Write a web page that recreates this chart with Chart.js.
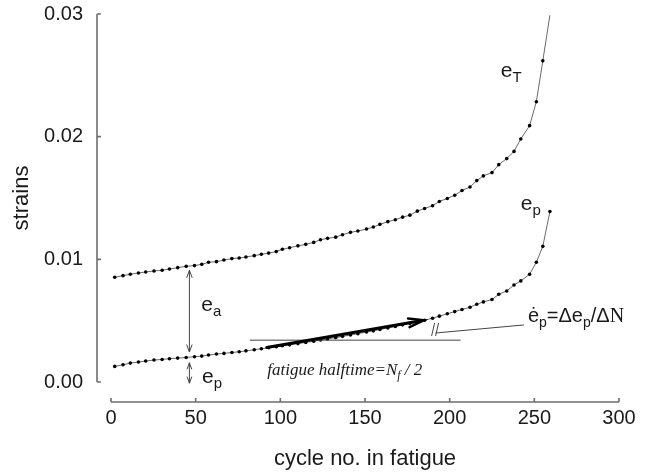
<!DOCTYPE html>
<html>
<head>
<meta charset="utf-8">
<script src="https://cdn.jsdelivr.net/npm/chart.js@4.4.1/dist/chart.umd.min.js"></script>
<style>
  html, body { margin: 0; padding: 0; background: #fff; }
  #wrap { width: 648px; height: 476px; position: relative; }
</style>
</head>
<body>
<div id="wrap"><canvas id="chart"></canvas></div>
<script>
// cycle numbers of the recorded samples
var cycles = [2.2, 7.1, 11.4, 16.2, 20.5, 25.4, 30.2, 34.5, 39.4, 44.4,
  49.3, 53.6, 57.6, 62.3, 66.7, 71.4, 75.7, 79.7, 84.6, 88.8,
  93.1, 97.6, 101.2, 105.5, 110.4, 115.0, 119.7, 123.7, 127.9, 132.7,
  136.7, 141.4, 145.8, 150.9, 154.9, 158.8, 163.5, 167.9, 172.2, 176.5,
  180.9, 185.2, 189.9, 193.9, 198.6, 203.0, 207.3, 212.0, 216.0, 219.9,
  225.0, 229.0, 233.7, 238.0, 242.0, 247.2, 251.2, 255.0, 259.2];

// total strain e_T
var totalStrain = [0.00854, 0.00867, 0.00878, 0.00889, 0.00897, 0.00905, 0.00911, 0.00921, 0.00932, 0.00943,
  0.00949, 0.00959, 0.00976, 0.00981, 0.00994, 0.01006, 0.01011, 0.01019, 0.0103, 0.01041,
  0.01051, 0.01063, 0.01082, 0.01095, 0.0111, 0.01122, 0.01138, 0.0116, 0.01171, 0.01181,
  0.01201, 0.0122, 0.01231, 0.01247, 0.01263, 0.01285, 0.01307, 0.01323, 0.01344, 0.0136,
  0.01393, 0.01415, 0.01437, 0.01472, 0.01496, 0.01523, 0.01561, 0.0159, 0.01642, 0.0168,
  0.01707, 0.01772, 0.01821, 0.0188, 0.01981, 0.0209, 0.02285, 0.02618, 0.0299];

// plastic strain e_p
var plasticStrain = [0.00127, 0.00141, 0.00154, 0.00163, 0.00171, 0.00179, 0.00184, 0.0019, 0.00195, 0.002,
  0.00206, 0.00211, 0.0022, 0.00228, 0.00233, 0.00241, 0.00246, 0.00254, 0.00263, 0.00271,
  0.0028, 0.00288, 0.00295, 0.00303, 0.00313, 0.00323, 0.00333, 0.00342, 0.00351, 0.00362,
  0.00372, 0.00383, 0.00394, 0.00407, 0.00417, 0.00428, 0.00441, 0.00453, 0.00466, 0.00478,
  0.00491, 0.00504, 0.0052, 0.00537, 0.00556, 0.00574, 0.00591, 0.00609, 0.00634, 0.00653,
  0.00672, 0.00715, 0.00742, 0.00791, 0.00824, 0.00878, 0.00976, 0.01106, 0.0139];

var xTicks = [0, 50, 100, 150, 200, 250, 300];
var yTicks = [0, 0.01, 0.02, 0.03];

var sans = "'Liberation Sans', Arial, sans-serif";
var serif = "'Liberation Serif', 'Times New Roman', serif";
var ink = '#1a1a1a';

function toPoints(vals) {
  return cycles.map(function (c, i) { return { x: c, y: vals[i] }; });
}

// the last e_T sample leaves the plot at the top, no dot there
var totalRadius = cycles.map(function (c, i) { return i === cycles.length - 1 ? 0 : 1.8; });

// axes drawn detached from the plot area, like the original figure
var axesPlugin = {
  id: 'axesPlugin',
  beforeDatasetsDraw: function (chart) {
    var ctx = chart.ctx, xs = chart.scales.x, ys = chart.scales.y;
    var ax = chart.chartArea.left - 14;
    var ay = chart.chartArea.bottom + 20;
    ctx.save();
    ctx.strokeStyle = '#6e6e6e';
    ctx.lineWidth = 1.6;
    ctx.beginPath();
    ctx.moveTo(ax, ys.getPixelForValue(yTicks[yTicks.length - 1]));
    ctx.lineTo(ax, ys.getPixelForValue(yTicks[0]));
    yTicks.forEach(function (t) {
      var p = ys.getPixelForValue(t);
      ctx.moveTo(ax, p);
      ctx.lineTo(ax + 4, p);
    });
    ctx.moveTo(xs.getPixelForValue(xTicks[0]), ay);
    ctx.lineTo(xs.getPixelForValue(xTicks[xTicks.length - 1]), ay);
    xTicks.forEach(function (t) {
      var p = xs.getPixelForValue(t);
      ctx.moveTo(p, ay);
      ctx.lineTo(p, ay - 4);
    });
    ctx.stroke();
    ctx.restore();
  }
};

function head(ctx, x, y, ang, len, spread) {
  ctx.moveTo(x + len * Math.cos(ang + spread), y + len * Math.sin(ang + spread));
  ctx.lineTo(x, y);
  ctx.lineTo(x + len * Math.cos(ang - spread), y + len * Math.sin(ang - spread));
}

function withSub(ctx, main, sub, x, y, size, family, style) {
  style = style || '';
  ctx.font = style + ' ' + size + 'px ' + family;
  ctx.fillText(main, x, y);
  var w = ctx.measureText(main).width;
  ctx.font = style + ' ' + Math.round(size * 0.72) + 'px ' + family;
  ctx.fillText(sub, x + w, y + size * 0.25);
  return x + w + ctx.measureText(sub).width;
}

var notesPlugin = {
  id: 'notesPlugin',
  afterDatasetsDraw: function (chart) {
    var ctx = chart.ctx, xs = chart.scales.x, ys = chart.scales.y;
    function X(v) { return xs.getPixelForValue(v); }
    function Y(v) { return ys.getPixelForValue(v); }
    ctx.save();
    ctx.fillStyle = ink;
    ctx.textBaseline = 'alphabetic';
    ctx.textAlign = 'left';

    // e_a double arrow between the curves
    ctx.strokeStyle = '#444';
    ctx.lineWidth = 1;
    var ex = X(46.3);
    ctx.beginPath();
    ctx.moveTo(ex, Y(0.00911));
    ctx.lineTo(ex, Y(0.00244));
    head(ctx, ex, Y(0.00911), Math.PI / 2, 8, 0.35);
    head(ctx, ex, Y(0.00244), -Math.PI / 2, 8, 0.35);
    // e_p double arrow below the lower curve
    ctx.moveTo(ex, Y(0.00157));
    ctx.lineTo(ex, Y(-0.0001));
    head(ctx, ex, Y(0.00157), Math.PI / 2, 7, 0.35);
    head(ctx, ex, Y(-0.0001), -Math.PI / 2, 7, 0.35);
    // halftime reference line
    ctx.moveTo(X(82), Y(0.00341));
    ctx.lineTo(X(206.5), Y(0.00341));
    ctx.stroke();

    // slope mark and leader line
    var mx = X(191.1), my = Y(0.00424);
    ctx.beginPath();
    ctx.moveTo(mx - 3, my + 6); ctx.lineTo(mx, my - 7);
    ctx.moveTo(mx + 1, my + 6); ctx.lineTo(mx + 4, my - 7);
    ctx.moveTo(mx + 1, my + 3);
    ctx.lineTo(X(243.8), Y(0.00465));
    ctx.stroke();

    // thick slope arrow
    var x0 = X(92), y0 = Y(0.00282), x1 = X(184.8), y1 = Y(0.00504);
    var ang = Math.atan2(y0 - y1, x0 - x1);
    ctx.strokeStyle = '#000';
    ctx.lineWidth = 3;
    ctx.lineCap = 'round';
    ctx.beginPath();
    ctx.moveTo(x0, y0);
    ctx.lineTo(x1 - 3 * Math.cos(ang + Math.PI), y1 - 3 * Math.sin(ang + Math.PI));
    ctx.stroke();
    ctx.lineWidth = 2.4;
    ctx.beginPath();
    head(ctx, x1, y1, ang, 16, 0.28);
    ctx.stroke();

    // labels
    withSub(ctx, 'e', 'T', X(230.2), Y(0.02486), 21, sans);
    withSub(ctx, 'e', 'p', X(242), Y(0.01402), 21, sans);
    withSub(ctx, 'e', 'a', X(53.3), Y(0.00579), 21, sans);
    withSub(ctx, 'e', 'p', X(53.8), Y(-0.00008), 21, sans);

    // rate formula
    var fx = X(246.2), fy = Y(0.00489);
    fx = withSub(ctx, '\u0117', 'p', fx, fy, 20, sans);
    fx = withSub(ctx, '=\u0394e', 'p', fx, fy, 20, sans);
    ctx.font = '20px ' + sans;
    ctx.fillText('/\u0394', fx, fy);
    fx += ctx.measureText('/\u0394').width;
    ctx.font = '20px ' + serif;
    ctx.fillText('N', fx, fy);

    // halftime caption
    var hx = X(92.3), hy = Y(0.00057);
    hx = withSub(ctx, 'fatigue halftime=N', 'f', hx, hy, 17, serif, 'italic');
    ctx.font = 'italic 17px ' + serif;
    ctx.fillText(' / 2', hx, hy);
    ctx.restore();
  }
};

var ctx = document.getElementById('chart').getContext('2d');
var chart = new Chart(ctx, {
  type: 'scatter',
  data: {
    datasets: [{
      label: 'e_T',
      data: toPoints(totalStrain),
      showLine: true,
      borderColor: '#6a6a6a',
      borderWidth: 1,
      pointRadius: totalRadius,
      pointBackgroundColor: '#000',
      pointBorderWidth: 0
    }, {
      label: 'e_p',
      data: toPoints(plasticStrain),
      showLine: true,
      borderColor: '#6a6a6a',
      borderWidth: 1,
      pointRadius: 1.8,
      pointBackgroundColor: '#000',
      pointBorderWidth: 0
    }]
  },
  options: {
    responsive: true,
    maintainAspectRatio: false,
    animation: false,
    layout: { padding: { top: 14, right: 29, bottom: 0, left: 0 } },
    plugins: { legend: { display: false }, tooltip: { enabled: false } },
    scales: {
      x: {
        type: 'linear',
        min: 0,
        max: 300,
        afterFit: function (s) { s.height = 94; s.paddingLeft = 0; s.paddingRight = 0; },
        afterBuildTicks: function (s) { s.ticks = xTicks.map(function (v) { return { value: v }; }); },
        grid: { display: false, drawTicks: false },
        border: { display: false },
        ticks: { padding: 24, color: ink, font: { family: sans, size: 20 } },
        title: { display: true, text: 'cycle no. in fatigue', color: ink,
          font: { family: sans, size: 22 }, padding: { top: 0, bottom: 4 } }
      },
      y: {
        min: 0,
        max: 0.03,
        afterFit: function (s) { s.width = 111; s.paddingTop = 0; s.paddingBottom = 0; },
        afterBuildTicks: function (s) { s.ticks = yTicks.map(function (v) { return { value: v }; }); },
        grid: { display: false, drawTicks: false },
        border: { display: false },
        ticks: { padding: 28, color: ink, font: { family: sans, size: 20 },
          callback: function (v) { return v.toFixed(2); } },
        title: { display: true, text: 'strains', color: ink,
          font: { family: sans, size: 22 }, padding: { top: 9, bottom: 0 } }
      }
    }
  },
  plugins: [axesPlugin, notesPlugin]
});
</script>
</body>
</html>
